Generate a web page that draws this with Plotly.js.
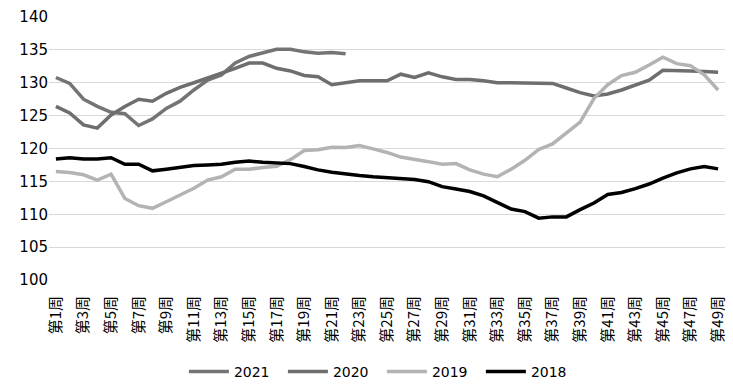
<!DOCTYPE html>
<html>
<head>
<meta charset="utf-8">
<script src="https://cdn.plot.ly/plotly-3.0.1.min.js"></script>
<style>html,body{margin:0;padding:0;background:#fff;}#chart{width:733px;height:385px;}</style>
</head>
<body>
<div id="chart"></div>
<script>
const weeks = ["第1周","第2周","第3周","第4周","第5周","第6周","第7周","第8周","第9周","第10周",
"第11周","第12周","第13周","第14周","第15周","第16周","第17周","第18周","第19周","第20周",
"第21周","第22周","第23周","第24周","第25周","第26周","第27周","第28周","第29周","第30周",
"第31周","第32周","第33周","第34周","第35周","第36周","第37周","第38周","第39周","第40周",
"第41周","第42周","第43周","第44周","第45周","第46周","第47周","第48周","第49周"];

const y2021 = [130.8,129.9,127.5,126.4,125.5,125.3,123.5,124.5,126.1,127.2,
128.9,130.4,131.2,133.0,134.0,134.5,135.1,135.1,134.7,134.5,
134.6,134.4];

const y2020 = [126.4,125.4,123.6,123.1,125.1,126.4,127.5,127.2,128.4,129.3,
130.0,130.7,131.4,132.2,133.0,133.0,132.2,131.8,131.1,130.9,
129.7,130.0,130.3,130.3,130.3,131.3,130.8,131.5,130.9,130.5,
130.5,130.3,130.0,130.0,130.0,129.9,129.9,129.2,128.5,128.0,
128.3,128.9,129.7,130.4,131.9,131.9,131.8,131.7,131.6];

const y2019 = [116.5,116.35,116.0,115.2,116.1,112.4,111.3,110.9,111.9,112.9,
113.95,115.2,115.7,116.85,116.85,117.1,117.3,118.3,119.7,119.8,
120.2,120.15,120.45,119.95,119.4,118.7,118.4,118.0,117.6,117.7,
116.75,116.1,115.7,116.85,118.2,119.85,120.7,122.3,124.0,127.6,
129.7,131.1,131.6,132.7,133.9,132.9,132.6,131.2,128.9];

const y2018 = [118.4,118.6,118.4,118.4,118.6,117.6,117.6,116.6,116.85,117.15,
117.4,117.5,117.6,117.9,118.1,117.9,117.75,117.7,117.25,116.75,
116.4,116.1,115.9,115.7,115.6,115.5,115.3,114.95,114.2,113.85,
113.45,112.8,111.85,110.8,110.4,109.4,109.6,109.6,110.7,111.7,
113.0,113.3,113.9,114.6,115.5,116.3,116.9,117.25,116.9];

const seriesNames = ["2021","2020","2019","2018"];
const seriesData = [y2021, y2020, y2019, y2018];
const colors = ["#747474","#6e6e6e","#b3b3b3","#000000"];

const traces = seriesData.map((ys, i) => ({
  type: "scatter",
  mode: "lines",
  name: seriesNames[i],
  x: weeks.slice(0, ys.length),
  y: ys,
  line: {color: colors[i], width: 3.5},
  hoverinfo: "skip"
}));

const layout = {
  width: 733,
  height: 385,
  margin: {l: 49, r: 8, t: 17, b: 105},
  paper_bgcolor: "#ffffff",
  plot_bgcolor: "#ffffff",
  showlegend: true,
  legend: {
    orientation: "h",
    xref: "container",
    yref: "container",
    x: 0.521, xanchor: "center",
    y: 0.034, yanchor: "middle",
    font: {family: "DejaVu Sans", size: 14, color: "#000"},
    itemwidth: 40,
    entrywidth: 44,
    traceorder: "normal"
  },
  xaxis: {
    type: "category",
    categoryorder: "array",
    categoryarray: weeks,
    range: [-0.5, 48.5],
    tickmode: "linear",
    tick0: 0,
    dtick: 2,
    tickangle: -90,
    tickfont: {family: "Noto Sans CJK SC", size: 15, color: "#000"},
    showgrid: false,
    showline: false,
    ticks: "outside",
    ticklen: 9,
    tickcolor: "rgba(0,0,0,0)",
    zeroline: false,
    automargin: false
  },
  yaxis: {
    range: [100, 140],
    dtick: 5,
    tick0: 100,
    showgrid: true,
    gridcolor: "#d9d9d9",
    gridwidth: 1,
    zeroline: false,
    showline: false,
    ticks: "",
    tickfont: {family: "DejaVu Sans", size: 15, color: "#000"},
    automargin: false
  }
};

Plotly.newPlot("chart", traces, layout, {displayModeBar: false, staticPlot: true});
</script>
</body>
</html>
